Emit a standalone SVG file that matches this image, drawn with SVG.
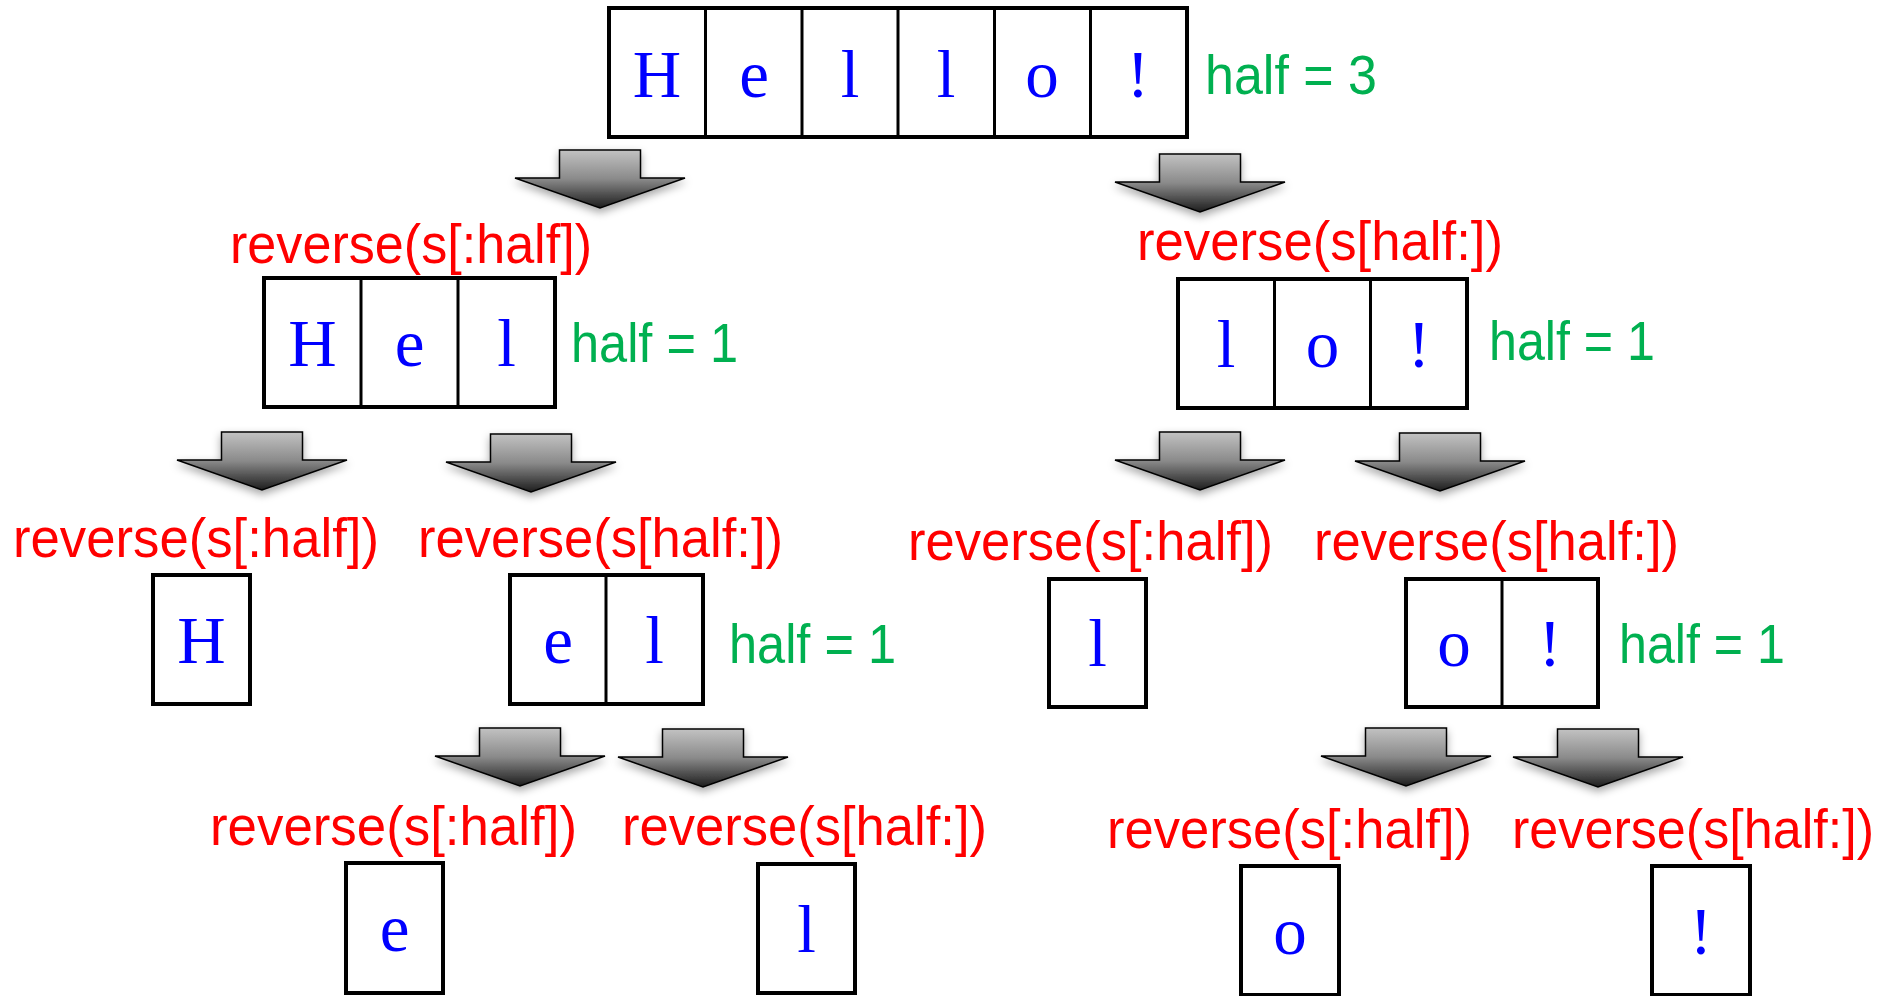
<svg xmlns="http://www.w3.org/2000/svg" xmlns:xlink="http://www.w3.org/1999/xlink" width="1891" height="996" viewBox="0 0 1891 996">
<style>
.box{fill:#fff;stroke:#000;stroke-width:4}
.div{stroke:#000;stroke-width:3}
.ch{font-family:"Liberation Serif","Times New Roman",serif;font-size:67px;fill:#0000ff;text-anchor:middle}
.call{font-family:"Liberation Sans",Arial,sans-serif;font-size:55px;fill:#ff0000}
.half{font-family:"Liberation Sans",Arial,sans-serif;font-size:55px;fill:#00b050}
.arr{fill:url(#ag);stroke:#000;stroke-width:1.5;stroke-linejoin:miter;filter:url(#sh)}
</style>
<defs>
<linearGradient id="ag" x1="0" y1="0" x2="0" y2="1">
<stop offset="0" stop-color="#c2c2c2"/>
<stop offset="0.5" stop-color="#8a8a8a"/>
<stop offset="1" stop-color="#1c1c1c"/>
</linearGradient>
<filter id="sh" x="-20%" y="-20%" width="140%" height="160%">
<feDropShadow dx="0" dy="4" stdDeviation="4" flood-color="#000" flood-opacity="0.35"/>
</filter>
<path id="arrow" d="M-40.5,0 H40.5 V28 H85 L0,58 L-85,28 H-40.5 Z"/>
</defs>
<rect width="1891" height="996" fill="#fff"/>

<g id="connectors">
<use xlink:href="#arrow" class="arr" x="600" y="150"/>
<use xlink:href="#arrow" class="arr" x="1200" y="154"/>
<use xlink:href="#arrow" class="arr" x="262" y="432"/>
<use xlink:href="#arrow" class="arr" x="531" y="434"/>
<use xlink:href="#arrow" class="arr" x="1200" y="432"/>
<use xlink:href="#arrow" class="arr" x="1440" y="433"/>
<use xlink:href="#arrow" class="arr" x="520" y="728"/>
<use xlink:href="#arrow" class="arr" x="703" y="729"/>
<use xlink:href="#arrow" class="arr" x="1406" y="728"/>
<use xlink:href="#arrow" class="arr" x="1598" y="729"/>
</g>

<g id="n0">
<rect class="box" x="609" y="8" width="578" height="129"/>
<line class="div" x1="705.5" y1="8" x2="705.5" y2="137"/>
<line class="div" x1="802" y1="8" x2="802" y2="137"/>
<line class="div" x1="898" y1="8" x2="898" y2="137"/>
<line class="div" x1="994.5" y1="8" x2="994.5" y2="137"/>
<line class="div" x1="1090.5" y1="8" x2="1090.5" y2="137"/>
<text class="ch" x="657" y="97">H</text>
<text class="ch" x="754" y="97">e</text>
<text class="ch" x="850" y="97">l</text>
<text class="ch" x="946" y="97">l</text>
<text class="ch" x="1042" y="97">o</text>
<text class="ch" x="1138" y="97">!</text>
<text class="half" x="1205" y="94" textLength="172" lengthAdjust="spacingAndGlyphs">half = 3</text>
</g>

<g id="n1L">
<text class="call" x="230" y="263" textLength="362" lengthAdjust="spacingAndGlyphs">reverse(s[:half])</text>
<rect class="box" x="264" y="278" width="291" height="129"/>
<line class="div" x1="361" y1="278" x2="361" y2="407"/>
<line class="div" x1="458" y1="278" x2="458" y2="407"/>
<text class="ch" x="312.5" y="366">H</text>
<text class="ch" x="409.5" y="366">e</text>
<text class="ch" x="506.5" y="366">l</text>
<text class="half" x="571" y="362" textLength="167" lengthAdjust="spacingAndGlyphs">half = 1</text>
</g>

<g id="n1R">
<text class="call" x="1137" y="260" textLength="366" lengthAdjust="spacingAndGlyphs">reverse(s[half:])</text>
<rect class="box" x="1178" y="279" width="289" height="129"/>
<line class="div" x1="1274.5" y1="279" x2="1274.5" y2="408"/>
<line class="div" x1="1370.5" y1="279" x2="1370.5" y2="408"/>
<text class="ch" x="1226" y="367">l</text>
<text class="ch" x="1322.5" y="367">o</text>
<text class="ch" x="1419" y="367">!</text>
<text class="half" x="1489" y="360" textLength="166" lengthAdjust="spacingAndGlyphs">half = 1</text>
</g>

<g id="n2a">
<text class="call" x="13" y="557" textLength="366" lengthAdjust="spacingAndGlyphs">reverse(s[:half])</text>
<rect class="box" x="153" y="575" width="97" height="129"/>
<text class="ch" x="201.5" y="663">H</text>
</g>

<g id="n2b">
<text class="call" x="418" y="557" textLength="365" lengthAdjust="spacingAndGlyphs">reverse(s[half:])</text>
<rect class="box" x="510" y="575" width="193" height="129"/>
<line class="div" x1="606" y1="575" x2="606" y2="704"/>
<text class="ch" x="558" y="663">e</text>
<text class="ch" x="654.5" y="663">l</text>
<text class="half" x="729" y="663" textLength="167" lengthAdjust="spacingAndGlyphs">half = 1</text>
</g>

<g id="n2c">
<text class="call" x="908" y="560" textLength="365" lengthAdjust="spacingAndGlyphs">reverse(s[:half])</text>
<rect class="box" x="1049" y="579" width="97" height="128"/>
<text class="ch" x="1097.5" y="666">l</text>
</g>

<g id="n2d">
<text class="call" x="1314" y="560" textLength="365" lengthAdjust="spacingAndGlyphs">reverse(s[half:])</text>
<rect class="box" x="1406" y="579" width="192" height="128"/>
<line class="div" x1="1502" y1="579" x2="1502" y2="707"/>
<text class="ch" x="1454" y="666">o</text>
<text class="ch" x="1550" y="666">!</text>
<text class="half" x="1619" y="663" textLength="166" lengthAdjust="spacingAndGlyphs">half = 1</text>
</g>

<g id="n3a">
<text class="call" x="210" y="845" textLength="367" lengthAdjust="spacingAndGlyphs">reverse(s[:half])</text>
<rect class="box" x="346" y="863" width="97" height="130"/>
<text class="ch" x="394.5" y="951">e</text>
</g>

<g id="n3b">
<text class="call" x="622" y="845" textLength="365" lengthAdjust="spacingAndGlyphs">reverse(s[half:])</text>
<rect class="box" x="758" y="864" width="97" height="129"/>
<text class="ch" x="806.5" y="952">l</text>
</g>

<g id="n3c">
<text class="call" x="1107" y="848" textLength="365" lengthAdjust="spacingAndGlyphs">reverse(s[:half])</text>
<rect class="box" x="1241" y="866" width="98" height="129"/>
<text class="ch" x="1290" y="954">o</text>
</g>

<g id="n3d">
<text class="call" x="1512" y="848" textLength="362" lengthAdjust="spacingAndGlyphs">reverse(s[half:])</text>
<rect class="box" x="1652" y="866" width="98" height="129"/>
<text class="ch" x="1701" y="954">!</text>
</g>
</svg>
